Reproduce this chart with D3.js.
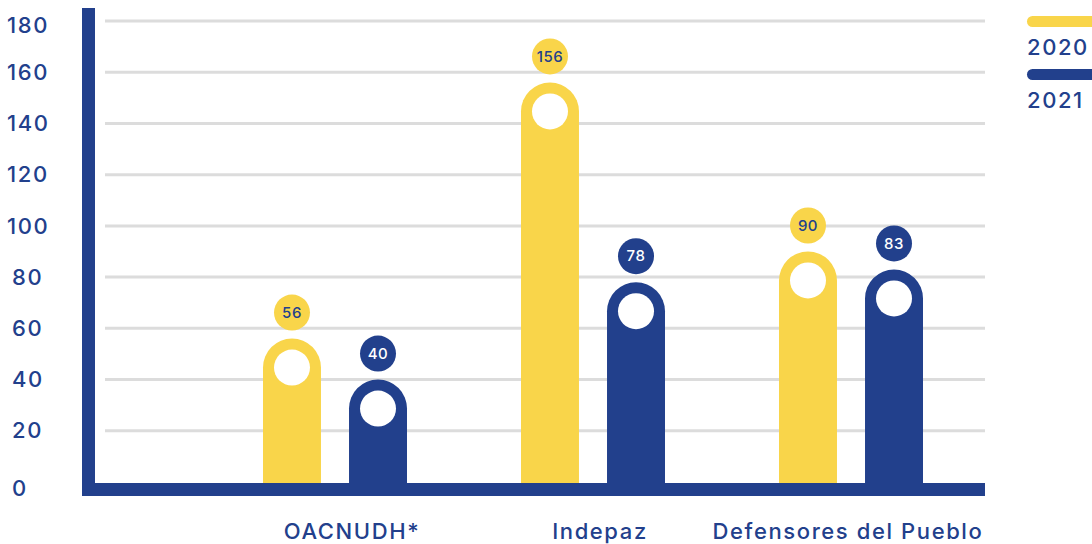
<!DOCTYPE html>
<html>
<head>
<meta charset="utf-8">
<script src="https://cdn.jsdelivr.net/npm/d3@7"></script>
<style>
  body { margin: 0; background: #fff; }
  svg { display: block; font-family: Inter, 'Open Sans', sans-serif; font-weight: 500; }
  .lbl { font-size: 22px; letter-spacing: 1.6px; }
</style>
</head>
<body>
<script>
const categories = ['OACNUDH*', 'Indepaz', 'Defensores del Pueblo'];
const years = ['2020', '2021'];
const values2020 = [56, 156, 90];
const values2021 = [40, 78, 83];
const yTicks = [0, 20, 40, 60, 80, 100, 120, 140, 160, 180];

const BLUE = '#22408c';
const YELLOW = '#f9d54a';
const colors = { '2020': YELLOW, '2021': BLUE };

const width = 1092, height = 544;

const svg = d3.select('body').append('svg')
  .attr('width', width)
  .attr('height', height);

const y = d3.scaleLinear().domain([0, 180]).range([482, 21]);
const x = d3.scaleBand().domain(categories).range([206, 980]);
const xSub = d3.scaleBand().domain(years).range([-72, 72]).paddingInner(0.326);
const xLabel = d3.scalePoint().domain(categories).range([352, 848]);
const bw = xSub.bandwidth();

// gridlines
svg.append('g')
  .selectAll('line')
  .data(yTicks.filter(d => d > 0))
  .enter()
  .append('line')
  .attr('x1', 105)
  .attr('x2', 985)
  .attr('y1', d => y(d))
  .attr('y2', d => y(d))
  .attr('stroke', '#dcdcdc')
  .attr('stroke-width', 3);

// y labels
svg.append('g')
  .selectAll('text')
  .data(yTicks)
  .enter()
  .append('text')
  .attr('class', 'lbl')
  .attr('x', d => String(d).length === 3 ? 7 : 12)
  .attr('y', d => y(d) + (d === 0 ? 6 : d === 180 ? 4 : 0))
  .attr('dy', '0.35em')
  .attr('fill', BLUE)
  .text(d => d);

const rows = [];
categories.forEach((c, i) => {
  rows.push({ cat: c, year: '2020', value: values2020[i] });
  rows.push({ cat: c, year: '2021', value: values2021[i] });
});

const cxOf = d => x(d.cat) + x.bandwidth() / 2 + xSub(d.year) + bw / 2;

function barPath(d)
{
  const cx = cxOf(d);
  const r = bw / 2;
  const top = y(d.value);
  const bottom = y(0) + 6;
  return `M${cx - r},${bottom} L${cx - r},${top + r} A${r},${r} 0 0 1 ${cx + r},${top + r} L${cx + r},${bottom} Z`;
}

const bars = svg.append('g')
  .selectAll('g')
  .data(rows)
  .enter()
  .append('g');

bars.append('path')
  .attr('d', barPath)
  .attr('fill', d => colors[d.year]);

bars.append('circle')
  .attr('cx', cxOf)
  .attr('cy', d => y(d.value) + bw / 2)
  .attr('r', 18)
  .attr('fill', '#fff');

bars.append('circle')
  .attr('cx', cxOf)
  .attr('cy', d => y(d.value) - 26)
  .attr('r', 18)
  .attr('fill', d => colors[d.year]);

bars.append('text')
  .attr('x', cxOf)
  .attr('y', d => y(d.value) - 26)
  .attr('dy', '0.35em')
  .attr('text-anchor', 'middle')
  .attr('fill', d => d.year === '2020' ? BLUE : '#fff')
  .style('font-size', '15px')
  .style('letter-spacing', '0.5px')
  .text(d => d.value);

// axes
svg.append('rect')
  .attr('x', 82).attr('y', 8)
  .attr('width', 13).attr('height', 488)
  .attr('fill', BLUE);
svg.append('rect')
  .attr('x', 82).attr('y', 483)
  .attr('width', 903).attr('height', 13)
  .attr('fill', BLUE);

// category labels
svg.append('g')
  .selectAll('text')
  .data(categories)
  .enter()
  .append('text')
  .attr('class', 'lbl')
  .attr('x', d => xLabel(d))
  .attr('y', 539)
  .attr('text-anchor', 'middle')
  .attr('fill', BLUE)
  .text(d => d);

// legend
const legend = svg.append('g')
  .selectAll('g')
  .data(years)
  .enter()
  .append('g')
  .attr('transform', (d, i) => `translate(1027, ${16 + i * 53})`);

legend.append('rect')
  .attr('width', 80).attr('height', 11)
  .attr('rx', 5.5)
  .attr('fill', d => colors[d]);

legend.append('text')
  .attr('class', 'lbl')
  .attr('x', 0)
  .attr('y', 39)
  .attr('fill', BLUE)
  .text(d => d);
</script>
</body>
</html>
